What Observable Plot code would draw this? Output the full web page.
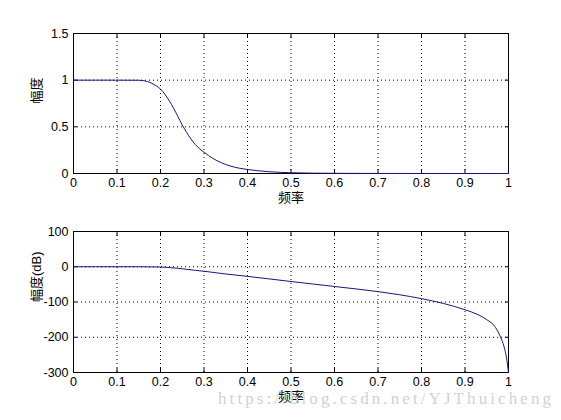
<!DOCTYPE html>
<html>
<head>
<meta charset="utf-8">
<script src="https://cdn.jsdelivr.net/npm/d3@7"></script>
<script src="https://cdn.jsdelivr.net/npm/@observablehq/plot@0.6"></script>
<style>
  html, body { margin: 0; padding: 0; background: #fff; }
  #wrap { position: relative; width: 561px; height: 420px; background: #fff; overflow: hidden; }
  #top { position: absolute; left: 0; top: 0; }
  #bottom { position: absolute; left: 0; top: 205px; }
  #wm { position: absolute; left: 0; top: 0; pointer-events: none; }
</style>
</head>
<body>
<div id="wrap">
  <div id="top"></div>
  <div id="bottom"></div>
  <svg id="wm" width="561" height="420">
    <text x="218" y="404" textLength="333" lengthAdjust="spacing" font-family="'Liberation Serif', 'DejaVu Serif', serif" font-size="17" fill="#d2d2d2">https://blog.csdn.net/YJThuicheng</text>
  </svg>
</div>
<script>
// Frequency axis (normalized)
const xTicks = [0, 0.1, 0.2, 0.3, 0.4, 0.5, 0.6, 0.7, 0.8, 0.9, 1];
const xLabel = "频率";

// Top: magnitude
const magFreq = [0, 0.05, 0.1, 0.15, 0.16, 0.17, 0.18, 0.19, 0.2, 0.21, 0.22, 0.23, 0.24, 0.25, 0.26, 0.27, 0.28, 0.29, 0.3, 0.32, 0.34, 0.36, 0.38, 0.4, 0.45, 0.5, 0.55, 0.6, 0.7, 0.8, 0.9, 1.0];
const magValue = [1, 1, 1, 0.999, 0.995, 0.985, 0.966, 0.94, 0.905, 0.85, 0.78, 0.70, 0.61, 0.52, 0.44, 0.37, 0.31, 0.265, 0.228, 0.163, 0.115, 0.081, 0.058, 0.043, 0.019, 0.008, 0.004, 0.002, 0.0005, 0.0001, 0, 0];
const magTicks = [0, 0.5, 1, 1.5];
const magLabel = "幅度";

// Bottom: magnitude in dB
const dbFreq = [0, 0.1, 0.15, 0.2, 0.22, 0.25, 0.28, 0.3, 0.35, 0.4, 0.45, 0.5, 0.55, 0.6, 0.65, 0.7, 0.75, 0.8, 0.85, 0.9, 0.93, 0.95, 0.97, 0.98, 0.99, 0.995, 1.0];
const dbValue = [0, 0, 0, -0.8, -2.1, -5.7, -10.2, -12.8, -20.5, -27.3, -34.5, -41.9, -48.9, -56, -63, -70.5, -79.5, -90.5, -104, -122, -136, -150, -172, -195, -228, -255, -300];
const dbTicks = [-300, -200, -100, 0, 100];
const dbLabel = "幅度(dB)";

const magData = magFreq.map((f, i) => ({ f, v: magValue[i] }));
const dbData = dbFreq.map((f, i) => ({ f, v: dbValue[i] }));

const fmt = d => String(+d.toFixed(2));
const FONT = "'Liberation Sans', Arial, 'Noto Sans CJK SC', sans-serif";
const LINE = "#16167c";

function panel({ data, yDomain, yTicks, yLabel, height, mt, mb }) {
  const tick = 4;
  return Plot.plot({
    width: 561,
    height,
    marginLeft: 73,
    marginRight: 53,
    marginTop: mt,
    marginBottom: mb,
    style: { fontFamily: FONT, fontSize: "12.5px", color: "#000", background: "transparent", overflow: "visible" },
    x: { domain: [0, 1], ticks: xTicks, tickFormat: fmt },
    y: { domain: yDomain, ticks: yTicks, tickFormat: fmt },
    marks: [
      Plot.gridX(xTicks, { stroke: "#000", strokeOpacity: 1, strokeDasharray: "1,3" }),
      Plot.gridY(yTicks, { stroke: "#000", strokeOpacity: 1, strokeDasharray: "1,3" }),
      // tick labels
      Plot.axisX(xTicks, { anchor: "bottom", tickSize: 0, tickPadding: 5, label: null, tickFormat: fmt, fill: "#000" }),
      Plot.axisY(yTicks, { anchor: "left", tickSize: 0, tickPadding: 5, label: null, tickFormat: fmt, fill: "#000" }),
      // inward tick marks on all four sides
      Plot.axisX(xTicks, { anchor: "bottom", tickSize: tick, dy: -tick, text: null, label: null, stroke: "#000" }),
      Plot.axisX(xTicks, { anchor: "top", tickSize: tick, dy: tick, text: null, label: null, stroke: "#000" }),
      Plot.axisY(yTicks, { anchor: "left", tickSize: tick, dx: tick, text: null, label: null, stroke: "#000" }),
      Plot.axisY(yTicks, { anchor: "right", tickSize: tick, dx: -tick, text: null, label: null, stroke: "#000" }),
      Plot.frame({ stroke: "#000" }),
      Plot.line(data, { x: "f", y: "v", stroke: LINE, strokeWidth: 1, curve: "monotone-x" }),
      Plot.text([xLabel], { frameAnchor: "bottom", dy: 28, text: d => d, fill: "#000", fontSize: 13 }),
      Plot.text([yLabel], { frameAnchor: "left", dx: -37, rotate: -90, text: d => d, fill: "#000", fontSize: 13 })
    ]
  });
}

document.getElementById("top").append(panel({
  data: magData, yDomain: [0, 1.5], yTicks: magTicks, yLabel: magLabel, height: 205, mt: 33, mb: 32
}));
document.getElementById("bottom").append(panel({
  data: dbData, yDomain: [-300, 100], yTicks: dbTicks, yLabel: dbLabel, height: 215, mt: 26, mb: 48
}));
</script>
</body>
</html>
